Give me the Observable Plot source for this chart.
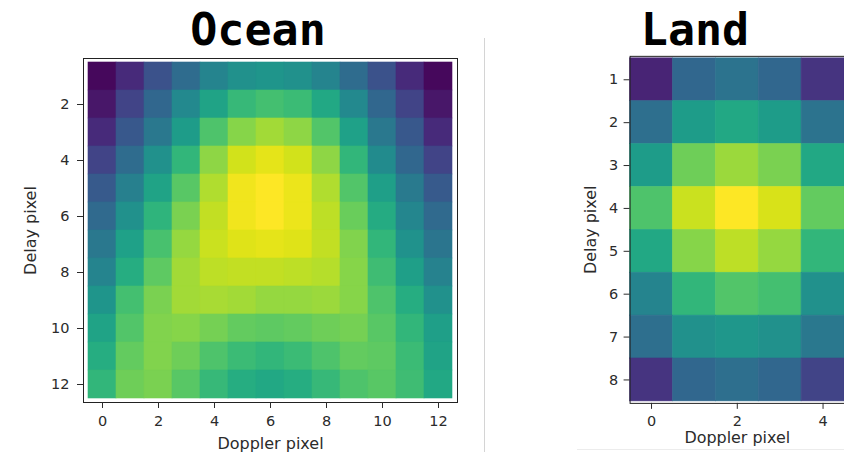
<!DOCTYPE html>
<html><head><meta charset="utf-8">
<script src="https://cdn.jsdelivr.net/npm/d3@7"></script>
<script src="https://cdn.jsdelivr.net/npm/@observablehq/plot@0.6"></script>
<style>
body{margin:0;background:#fff;}
#wrap{position:relative;width:844px;height:452px;overflow:hidden;background:#fff;}
.title{position:absolute;top:7px;font-family:"DejaVu Sans Mono",monospace;font-weight:bold;font-size:45px;line-height:45px;white-space:nowrap;transform:translateX(-50%);color:#000;}
.panel{position:absolute;top:0;}
#sep{position:absolute;left:484px;top:38px;width:1px;height:414px;background:#d4d4d4;}
#base{position:absolute;left:577px;top:449px;width:267px;height:1px;background:#ececec;}
</style></head><body>
<div id="wrap">
  <div id="sep"></div>
  <div id="base"></div>
  <div id="ocean" class="panel" style="left:0"></div>
  <div id="land" class="panel" style="left:480px"></div>
  <div class="title" style="left:258px">Ocean</div>
  <div class="title" style="left:695px">Land</div>
</div>
<script>
// Ocean: Doppler pixel 0..12 (columns), Delay pixel 1..12 (rows)
const oceanDoppler = [0,1,2,3,4,5,6,7,8,9,10,11,12];
const oceanDelay = [1,2,3,4,5,6,7,8,9,10,11,12];
const oceanXTicks = [0,2,4,6,8,10,12];
const oceanYTicks = [2,4,6,8,10,12];
const oceanValues = [
  [0.02,0.12,0.25,0.35,0.45,0.50,0.52,0.50,0.45,0.35,0.25,0.12,0.02],
  [0.06,0.20,0.33,0.47,0.58,0.67,0.70,0.68,0.60,0.47,0.33,0.20,0.06],
  [0.12,0.27,0.40,0.55,0.72,0.82,0.86,0.83,0.73,0.57,0.40,0.27,0.12],
  [0.20,0.35,0.50,0.66,0.83,0.93,0.96,0.93,0.83,0.66,0.48,0.33,0.20],
  [0.28,0.43,0.58,0.74,0.88,0.98,1.00,0.97,0.88,0.73,0.56,0.41,0.28],
  [0.34,0.50,0.65,0.80,0.91,0.98,1.00,0.97,0.90,0.77,0.61,0.46,0.34],
  [0.40,0.57,0.71,0.84,0.92,0.95,0.96,0.95,0.91,0.81,0.66,0.51,0.39],
  [0.45,0.62,0.75,0.86,0.90,0.91,0.91,0.90,0.89,0.82,0.69,0.56,0.44],
  [0.52,0.70,0.80,0.86,0.87,0.86,0.84,0.84,0.85,0.82,0.72,0.62,0.50],
  [0.58,0.73,0.81,0.82,0.79,0.76,0.75,0.76,0.78,0.79,0.74,0.66,0.56],
  [0.62,0.76,0.81,0.78,0.72,0.68,0.66,0.68,0.72,0.76,0.75,0.68,0.58],
  [0.66,0.78,0.80,0.74,0.67,0.62,0.60,0.62,0.67,0.72,0.74,0.69,0.60]
];

// Land: Doppler pixel 0..4, Delay pixel 1..8
const landDoppler = [0,1,2,3,4];
const landDelay = [1,2,3,4,5,6,7,8];
const landXTicks = [0,2,4];
const landYTicks = [1,2,3,4,5,6,7,8];
const landValues = [
  [0.10,0.33,0.38,0.33,0.15],
  [0.36,0.55,0.60,0.55,0.38],
  [0.55,0.78,0.85,0.80,0.60],
  [0.72,0.92,1.00,0.94,0.76],
  [0.60,0.82,0.90,0.84,0.66],
  [0.45,0.66,0.73,0.70,0.50],
  [0.36,0.50,0.53,0.50,0.40],
  [0.15,0.33,0.36,0.33,0.20]
];

function toCells(values, xs, ys) {
  const out = [];
  ys.forEach((y, i) => xs.forEach((x, j) => out.push({x, y, v: values[i][j]})));
  return out;
}

function heat(values, xs, ys, xt, yt, cfg) {
  return Plot.plot({
    width: cfg.width, height: 452,
    marginLeft: cfg.ml, marginRight: cfg.mr, marginTop: cfg.mt, marginBottom: cfg.mb,
    style: {fontFamily: "DejaVu Sans", fontSize: "14.5px", color: "#2b2b2b", background: "transparent", overflow: "visible"},
    x: {type: "band", domain: xs, padding: 0},
    y: {type: "band", domain: ys, padding: 0},
    color: {type: "linear", scheme: "viridis", domain: [0, 1]},
    marks: [
      Plot.cell(toCells(values, xs, ys), {x: "x", y: "y", fill: "v", stroke: "v", strokeWidth: 0.6}),
      Plot.frame({stroke: "#222", strokeWidth: 1}),
      Plot.axisX({ticks: xt, tickSize: 6, tickPadding: cfg.xpad, label: null}),
      Plot.axisX({ticks: [], tickSize: 0, label: "Doppler pixel", labelAnchor: "center", labelOffset: cfg.xlo, fontSize: 16}),
      Plot.axisY({ticks: yt, tickSize: 6, tickPadding: cfg.ypad, label: null}),
      Plot.axisY({ticks: [], tickSize: 0, label: "Delay pixel", labelAnchor: "center", labelOffset: cfg.ylo, fontSize: 16})
    ]
  });
}

document.getElementById("ocean").append(
  heat(oceanValues, oceanDoppler, oceanDelay, oceanXTicks, oceanYTicks,
       {width: 480, ml: 83, mr: 23, mt: 58, mb: 50, xpad: 7, ypad: 8, xlo: 46, ylo: 59}));
document.getElementById("land").append(
  heat(landValues, landDoppler, landDelay, landXTicks, landYTicks,
       {width: 365, ml: 150, mr: 0, mt: 56, mb: 48, xpad: 6, ypad: 6, xlo: 40, ylo: 46}));
</script>
</body></html>
